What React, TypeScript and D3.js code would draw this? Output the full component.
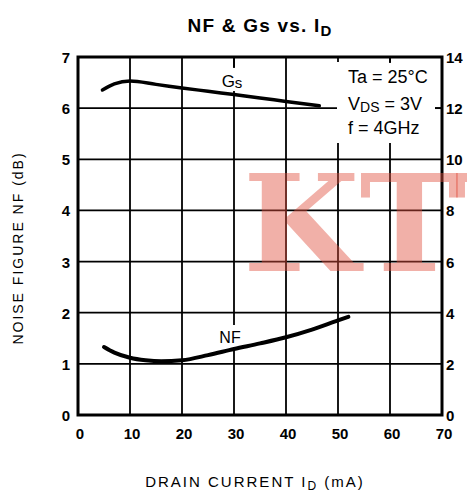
import React from 'react';
import * as d3 from 'd3';

// data
const nfCurrent = [5, 7, 10, 13, 16, 20, 25, 30, 35, 40, 45, 50, 52];
const nfValues = [1.33, 1.22, 1.12, 1.07, 1.05, 1.07, 1.17, 1.29, 1.4, 1.52, 1.67, 1.85, 1.92];
const gsCurrent = [4.7, 7, 10, 15, 20, 25, 30, 35, 40, 46.4];
const gsValues = [12.71, 12.95, 13.06, 12.93, 12.79, 12.66, 12.53, 12.4, 12.26, 12.09];
const xTicks = [0, 10, 20, 30, 40, 50, 60, 70];
const nfTicks = [0, 1, 2, 3, 4, 5, 6, 7];
const gsTicks = [0, 2, 4, 6, 8, 10, 12, 14];

const W = 467;
const H = 493;
const left = 78, right = 442, top = 57, bottom = 415;

const App = () => {
  const x = d3.scaleLinear().domain([0, 70]).range([left, right]);
  const yL = d3.scaleLinear().domain([0, 7]).range([bottom, top]);
  const yR = d3.scaleLinear().domain([0, 14]).range([bottom, top]);

  const nfLine = d3.line<number>()
    .x((d, i) => x(nfCurrent[i]))
    .y(d => yL(d))
    .curve(d3.curveMonotoneX);
  const gsLine = d3.line<number>()
    .x((d, i) => x(gsCurrent[i]))
    .y(d => yR(d))
    .curve(d3.curveMonotoneX);

  const tickFont = { fontFamily: 'Liberation Sans, Arial, sans-serif', fontWeight: 700, fontSize: 15 };
  const textFont = { fontFamily: 'Liberation Sans, Arial, sans-serif' };

  return (
    <svg width={W} height={H} style={{ position: 'absolute', left: 0, top: 0, background: '#fff' }}>
      {/* grid */}
      <g stroke="#000" strokeWidth={1.8}>
        {xTicks.slice(1, -1).map(t => (
          <line key={'gx' + t} x1={x(t)} x2={x(t)} y1={top} y2={bottom} />
        ))}
        {nfTicks.slice(1, -1).map(t => (
          <line key={'gy' + t} x1={left} x2={right} y1={yL(t)} y2={yL(t)} />
        ))}
      </g>

      {/* white boxes behind labels / legend */}
      <rect x={337} y={62} width={98} height={81} fill="#fff" />
      <rect x={216} y={68} width={32} height={23} fill="#fff" />
      <rect x={214} y={325} width={32} height={23} fill="#fff" />
      <line x1={x(60)} x2={x(60)} y1={top} y2={63} stroke="#000" strokeWidth={1.8} />
      <line x1={x(30)} x2={x(30)} y1={top} y2={67} stroke="#000" strokeWidth={1.8} />
      <line x1={435} x2={right} y1={yR(12)} y2={yR(12)} stroke="#000" strokeWidth={1.8} />

      {/* frame */}
      <rect x={left} y={top} width={right - left} height={bottom - top} fill="none" stroke="#000" strokeWidth={3} />

      {/* curves */}
      <path d={gsLine(gsValues) || ''} fill="none" stroke="#000" strokeWidth={3.5} strokeLinecap="round" />
      <path d={nfLine(nfValues) || ''} fill="none" stroke="#000" strokeWidth={4} strokeLinecap="round" />

      {/* curve labels */}
      <text x={232} y={87} textAnchor="middle" fontSize={17} style={textFont}>
        G<tspan fontSize={15} dy={1}>s</tspan>
      </text>
      <text x={230} y={343} textAnchor="middle" fontSize={16} style={textFont}>NF</text>

      {/* conditions */}
      <g style={textFont} fontSize={18}>
        <text x={348} y={83}>Ta = 25°C</text>
        <text x={348} y={110}>V<tspan fontSize={14} dy={2}>DS</tspan><tspan dy={-2}> = 3V</tspan></text>
        <text x={348} y={134}>f = 4GHz</text>
      </g>

      {/* tick labels */}
      {xTicks.map(t => (
        <text key={'xt' + t} x={x(t) + 2} y={439} textAnchor="middle" style={tickFont}>{t}</text>
      ))}
      {nfTicks.map(t => (
        <text key={'yl' + t} x={70} y={yL(t) + 6} textAnchor="end" style={tickFont}>{t}</text>
      ))}
      {gsTicks.map(t => (
        <text key={'yr' + t} x={446} y={yR(t) + 6} textAnchor="start" style={tickFont}>{t}</text>
      ))}

      {/* titles */}
      <text x={260} y={32} textAnchor="middle" fontSize={19} fontWeight={700} letterSpacing={1.2} style={textFont}>
        NF &amp; Gs vs. I<tspan fontSize={15} dy={4}>D</tspan>
      </text>
      <text x={255} y={487} textAnchor="middle" fontSize={15} letterSpacing={2} style={textFont}>
        DRAIN CURRENT I<tspan fontSize={12} dy={3}>D</tspan><tspan dy={-3}> (mA)</tspan>
      </text>
      <text transform="translate(23,248) rotate(-90)" textAnchor="middle" fontSize={14} letterSpacing={2} style={textFont}>
        NOISE FIGURE NF (dB)
      </text>

      {/* watermark */}
      <text x={243} y={271} fontSize={134} fontWeight={700}
        fontFamily="DejaVu Serif, serif" fill="#e0503f" fillOpacity={0.45}>
        KTT
      </text>
    </svg>
  );
};

export default App;
